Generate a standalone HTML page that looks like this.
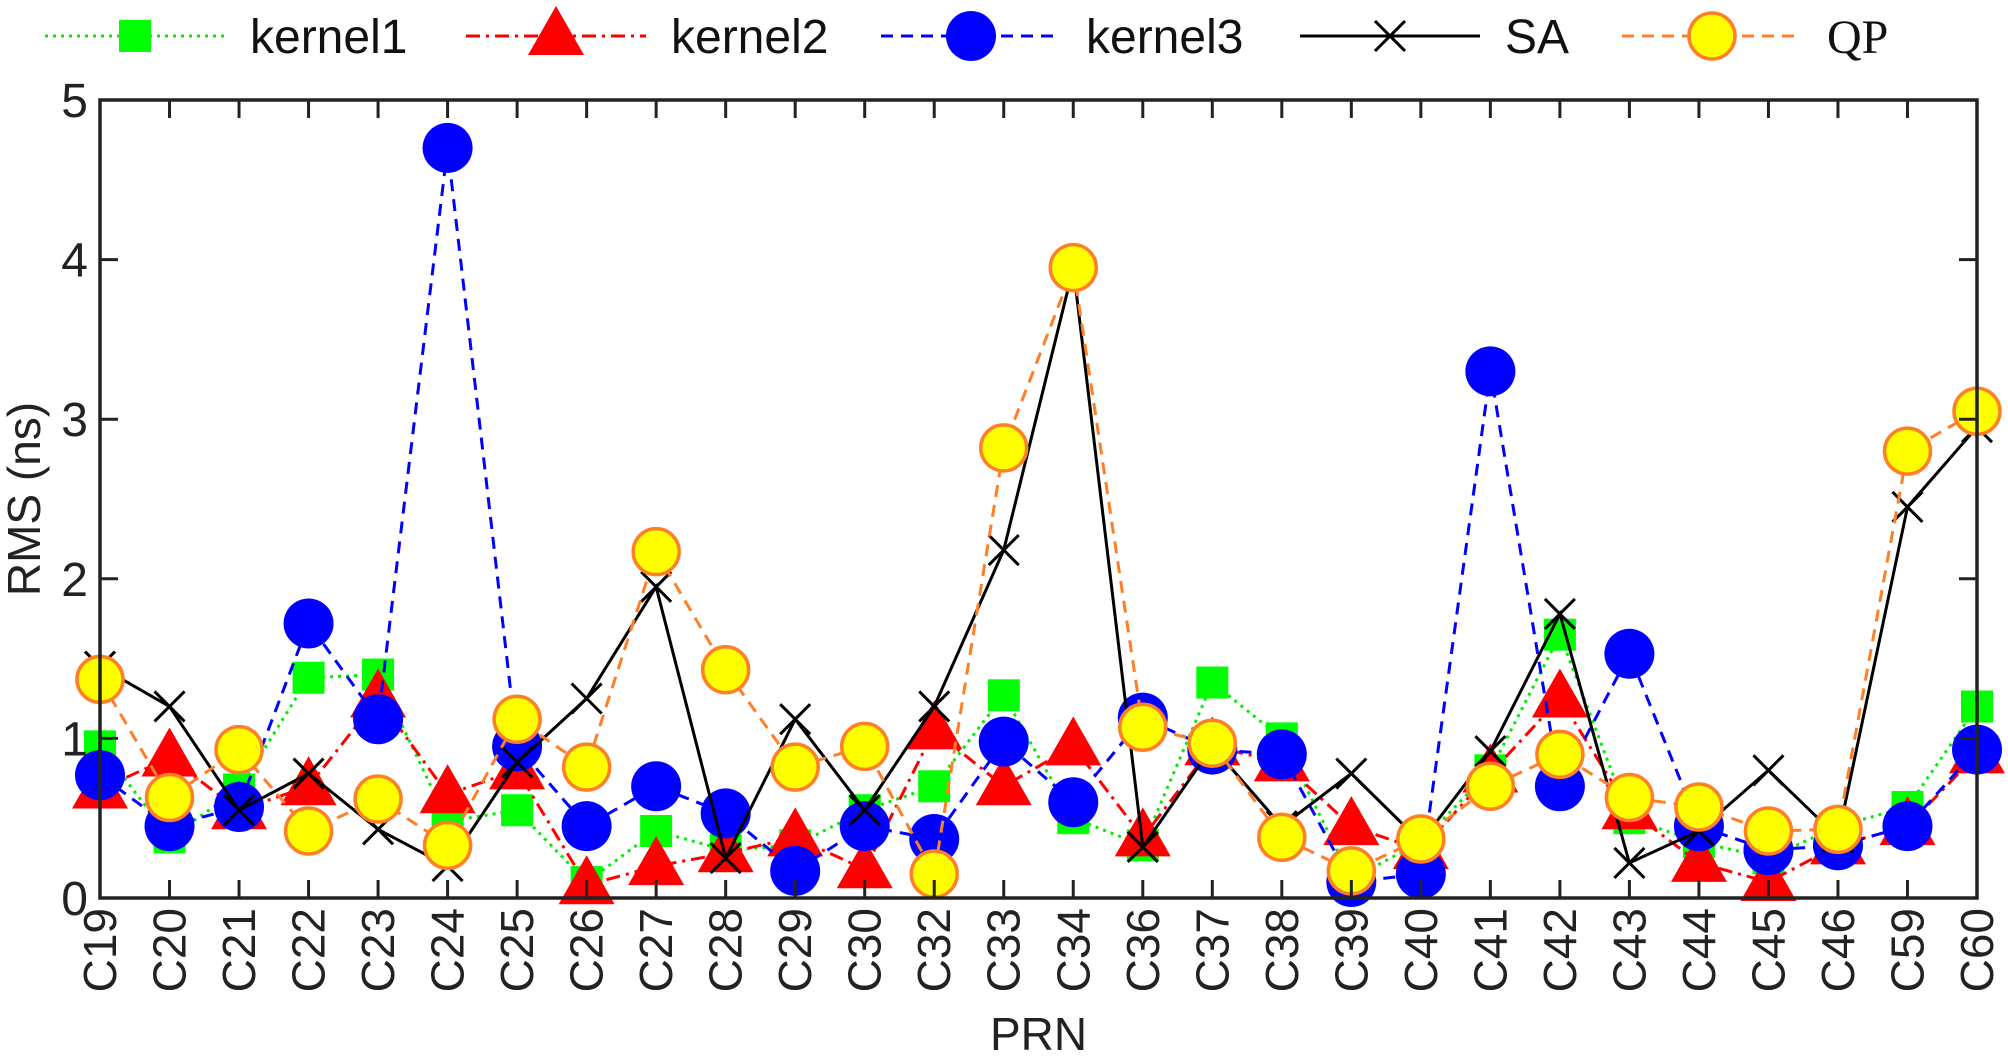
<!DOCTYPE html>
<html><head><meta charset="utf-8"><style>
html,body{margin:0;padding:0;background:#fff;}
svg{display:block;font-family:"Liberation Sans",sans-serif;}
</style></head><body>
<svg id="s" width="2008" height="1060" xmlns="http://www.w3.org/2000/svg"></svg>
<script>
const S=document.getElementById('s');
const L=100,R=1977,T=100,B=898;
const cats=["C19","C20","C21","C22","C23","C24","C25","C26","C27","C28","C29","C30","C32","C33","C34","C36","C37","C38","C39","C40","C41","C42","C43","C44","C45","C46","C59","C60"];
const X=i=>L+i*(R-L)/27, Y=v=>B-v*(B-T)/5;
const d={
k1:[0.95,0.38,0.68,1.38,1.4,0.48,0.55,0.1,0.42,0.3,0.33,0.55,0.7,1.27,0.5,0.33,1.35,1.0,0.12,0.35,0.8,1.65,0.5,0.35,0.25,0.45,0.57,1.2],
k2:[0.68,0.88,0.55,0.7,1.25,0.65,0.8,0.08,0.2,0.28,0.38,0.18,1.05,0.7,0.95,0.38,0.95,0.85,0.45,0.3,0.78,1.25,0.55,0.22,0.1,0.33,0.45,0.9],
k3:[0.77,0.45,0.57,1.72,1.12,4.7,0.95,0.45,0.7,0.53,0.17,0.45,0.37,0.98,0.6,1.13,0.93,0.9,0.1,0.15,3.3,0.7,1.53,0.45,0.3,0.33,0.45,0.93],
sa:[1.45,1.2,0.55,0.78,0.43,0.2,0.85,1.25,1.95,0.25,1.12,0.55,1.2,2.18,3.95,0.32,0.95,0.45,0.78,0.35,0.92,1.78,0.22,0.42,0.8,0.38,2.45,2.95],
qp:[1.37,0.63,0.93,0.42,0.62,0.33,1.12,0.82,2.17,1.43,0.82,0.95,0.15,2.82,3.95,1.07,0.97,0.38,0.17,0.37,0.7,0.9,0.63,0.57,0.42,0.43,2.8,3.05]};
let h='';
const sq=(x,y)=>`<rect x="${x-16}" y="${y-16}" width="32" height="32" fill="#00ff00"/>`;
const tri=(x,y)=>`<polygon points="${x},${y-30} ${x-28},${y+19} ${x+28},${y+19}" fill="#ff0000"/>`;
const ci=(x,y)=>`<circle cx="${x}" cy="${y}" r="25" fill="#0000ff"/>`;
const cr=(x,y)=>`<path d="M${x-15} ${y-15}L${x+15} ${y+15}M${x-15} ${y+15}L${x+15} ${y-15}" stroke="#000" stroke-width="3"/>`;
const qp=(x,y)=>`<circle cx="${x}" cy="${y}" r="23" fill="#ffff00" stroke="#ff7f27" stroke-width="3.5"/>`;
const ser=[
 ['k1','#00ee00','3 5',sq],['k2','#ff0000','14 6 3 6',tri],['k3','#0000ff','12 8',ci],['sa','#000','',cr],['qp','#ff7f27','12 8',qp]];
for(const [k,c,da,m] of ser){
 const p=d[k].map((v,i)=>X(i).toFixed(1)+','+Y(v).toFixed(1)).join(' ');
 h+=`<polyline points="${p}" fill="none" stroke="${c}" stroke-width="3" ${da?`stroke-dasharray="${da}"`:''}/>`;
 d[k].forEach((v,i)=>h+=m(X(i),Y(v)));
}
h+=`<rect x="${L}" y="${T}" width="${R-L}" height="${B-T}" fill="none" stroke="#222" stroke-width="3.5"/>`;
cats.forEach((c,i)=>{const x=X(i);
 h+=`<line x1="${x}" y1="${B}" x2="${x}" y2="${B-18}" stroke="#222" stroke-width="3"/><line x1="${x}" y1="${T}" x2="${x}" y2="${T+18}" stroke="#222" stroke-width="3"/>`;
 h+=`<text transform="translate(${x+16},${B+10}) rotate(-90)" text-anchor="end" font-size="46" fill="#222">${c}</text>`;});
for(let v=0;v<=5;v++){const y=Y(v);
 h+=`<line x1="${L}" y1="${y}" x2="${L+18}" y2="${y}" stroke="#222" stroke-width="3"/><line x1="${R}" y1="${y}" x2="${R-18}" y2="${y}" stroke="#222" stroke-width="3"/>`;
 h+=`<text x="${L-12}" y="${y+17}" text-anchor="end" font-size="48" fill="#222">${v}</text>`;}
h+=`<text x="${(L+R)/2}" y="1050" text-anchor="middle" font-size="46" fill="#222">PRN</text>`;
h+=`<text transform="translate(40,${(T+B)/2}) rotate(-90)" text-anchor="middle" font-size="46" fill="#222">RMS (ns)</text>`;
const lg=[[45,'kernel1',0,'Liberation Sans'],[466,'kernel2',1,'Liberation Sans'],[881,'kernel3',2,'Liberation Sans'],[1300,'SA',3,'Liberation Sans'],[1622,'QP',4,'Liberation Serif']];
for(const [x0,t,i,f] of lg){const [k,c,da,m]=ser[i];const y=36;
 h+=`<line x1="${x0}" y1="${y}" x2="${x0+180}" y2="${y}" stroke="${c}" stroke-width="3" ${da?`stroke-dasharray="${da}"`:''}/>`;
 h+=m(x0+90,y);
 h+=`<text x="${x0+205}" y="${y+17}" font-size="48" font-family="${f}" fill="#111">${t}</text>`;}
S.innerHTML=h;
</script>
</body></html>
